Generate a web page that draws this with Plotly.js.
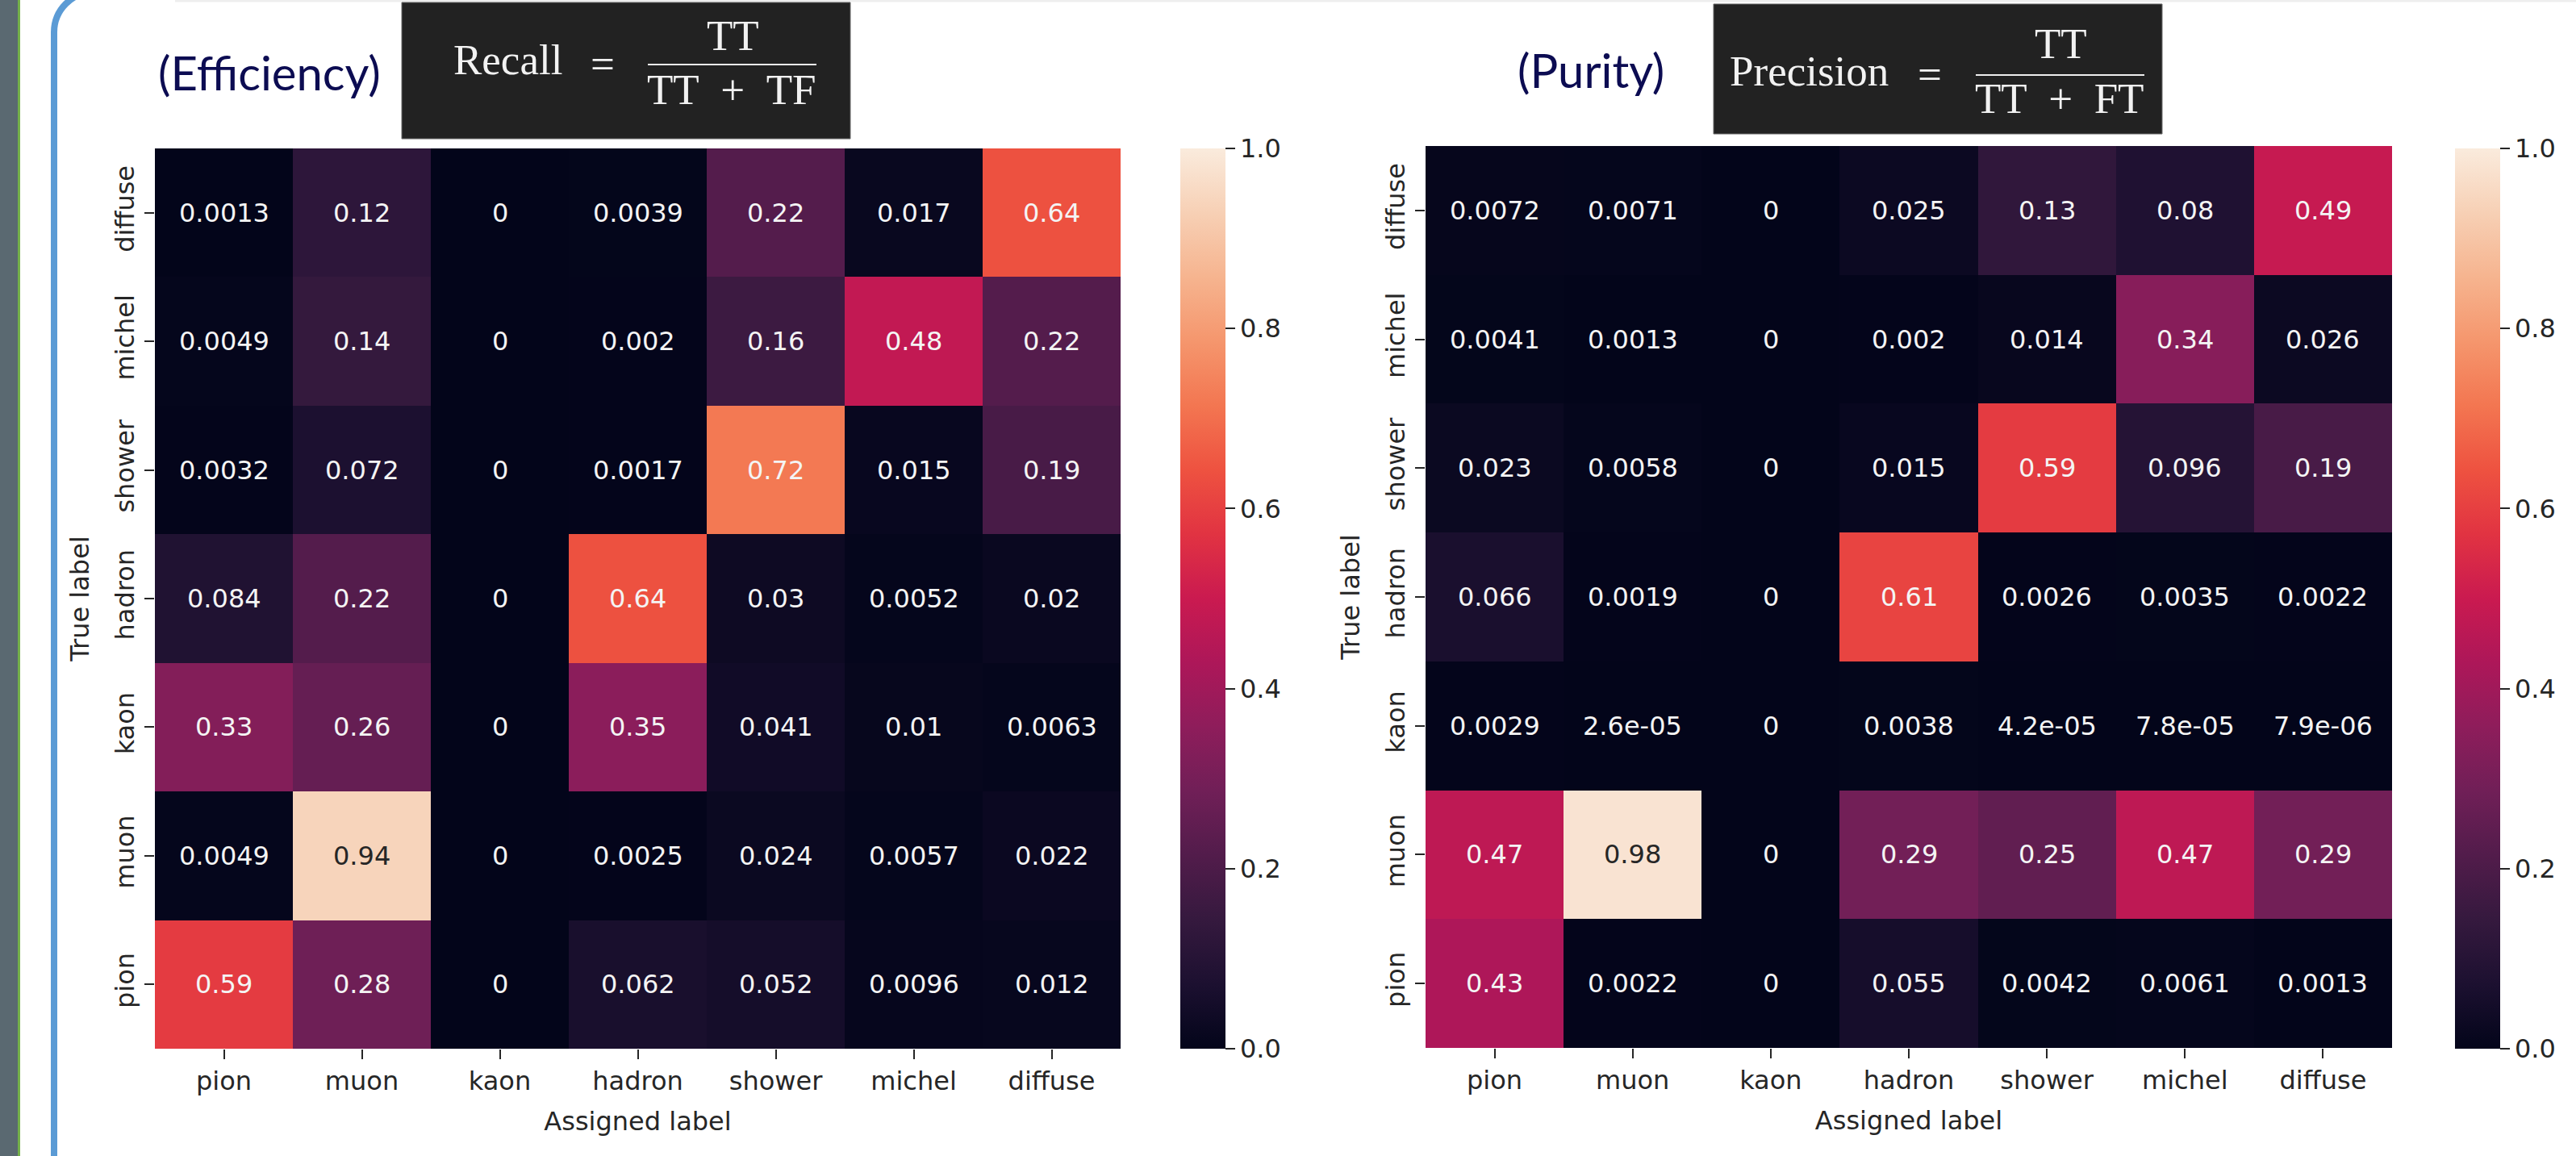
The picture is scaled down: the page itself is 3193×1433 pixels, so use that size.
<!DOCTYPE html>
<html>
<head>
<meta charset="utf-8">
<script src="https://cdn.plot.ly/plotly-3.0.1.min.js"></script>
<style>
  html, body { margin: 0; padding: 0; background: #ffffff; }
  #chart { width: 3193px; height: 1433px; }
</style>
</head>
<body>
<div id="chart"></div>
<script>
// ---------------- data ----------------
const assignedLabels = ['pion', 'muon', 'kaon', 'hadron', 'shower', 'michel', 'diffuse'];
// true labels listed bottom -> top (as drawn)
const trueLabels = ['pion', 'muon', 'kaon', 'hadron', 'shower', 'michel', 'diffuse'];

// Recall (efficiency): rows = true label (same order as trueLabels), cols = assigned label
const recallValues = [
  [0.59,   0.28, 0, 0.062,  0.052, 0.0096, 0.012],   // pion
  [0.0049, 0.94, 0, 0.0025, 0.024, 0.0057, 0.022],   // muon
  [0.33,   0.26, 0, 0.35,   0.041, 0.01,   0.0063],  // kaon
  [0.084,  0.22, 0, 0.64,   0.03,  0.0052, 0.02],    // hadron
  [0.0032, 0.072,0, 0.0017, 0.72,  0.015,  0.19],    // shower
  [0.0049, 0.14, 0, 0.002,  0.16,  0.48,   0.22],    // michel
  [0.0013, 0.12, 0, 0.0039, 0.22,  0.017,  0.64]     // diffuse
];

// Precision (purity)
const precisionValues = [
  [0.43,   0.0022,  0, 0.055,  0.0042,  0.0061,  0.0013],   // pion
  [0.47,   0.98,    0, 0.29,   0.25,    0.47,    0.29],     // muon
  [0.0029, 2.6e-05, 0, 0.0038, 4.2e-05, 7.8e-05, 7.9e-06],  // kaon
  [0.066,  0.0019,  0, 0.61,   0.0026,  0.0035,  0.0022],   // hadron
  [0.023,  0.0058,  0, 0.015,  0.59,    0.096,   0.19],     // shower
  [0.0041, 0.0013,  0, 0.002,  0.014,   0.34,    0.026],    // michel
  [0.0072, 0.0071,  0, 0.025,  0.13,    0.08,    0.49]      // diffuse
];

const colorbarTicks = [0, 0.2, 0.4, 0.6, 0.8, 1.0];

// ---------------- styling helpers ----------------
const W = 3193, H = 1433;
const px = v => v / W;            // pixel -> paper x
const py = v => 1 - v / H;        // pixel -> paper y

// seaborn "rocket" colormap (approximation)
const rocket = [
  [0.0,   '#03051a'],
  [0.0714,'#1c1030'],
  [0.1429,'#35193e'],
  [0.2143,'#521c4b'],
  [0.2857,'#701f57'],
  [0.3571,'#8e1d5b'],
  [0.4286,'#ad1759'],
  [0.5,   '#ca1a50'],
  [0.5714,'#e13342'],
  [0.6429,'#ee5240'],
  [0.7143,'#f37651'],
  [0.7857,'#f5966d'],
  [0.8571,'#f6b48f'],
  [0.9286,'#f7d0b5'],
  [1.0,   '#faebdd']
];

function fmt2g(v) {
  if (v === 0) return '0';
  const e = Math.floor(Math.log10(Math.abs(v)));
  if (e < -4) {
    let s = v.toExponential(1);           // e.g. 2.6e-5
    s = s.replace(/e([+-])(\d)$/, 'e$10$2');
    return s;
  }
  return String(parseFloat(v.toPrecision(2)));
}

const FONT = 'DejaVu Sans';
const TXT = '#262626';

function cellAnnotations(values, xr, yr) {
  const out = [];
  for (let i = 0; i < trueLabels.length; i++) {
    for (let j = 0; j < assignedLabels.length; j++) {
      const v = values[i][j];
      out.push({
        xref: xr, yref: yr, x: assignedLabels[j], y: trueLabels[i],
        text: fmt2g(v), showarrow: false,
        font: { family: FONT, size: 32, color: v >= 0.8 ? TXT : '#f4f4f4' }
      });
    }
  }
  return out;
}

function heat(values, xa, ya, cbx) {
  return {
    type: 'heatmap',
    x: assignedLabels, y: trueLabels, z: values,
    xaxis: xa, yaxis: ya,
    zmin: 0, zmax: 1,
    colorscale: rocket,
    hoverinfo: 'skip',
    colorbar: {
      x: cbx, xanchor: 'left', xpad: 0, ypad: 0,
      y: py(742), yanchor: 'middle',
      len: 1116 / H, lenmode: 'fraction',
      thickness: 56, thicknessmode: 'pixels',
      outlinewidth: 0,
      tickvals: colorbarTicks, tickformat: '.1f', tickprefix: '\u00a0',
      ticks: 'outside', ticklen: 12, tickwidth: 2, tickcolor: TXT,
      tickfont: { family: FONT, size: 32, color: TXT }
    }
  };
}

function xAxis(domain, anchor) {
  return {
    domain: domain, anchor: anchor,
    type: 'category', categoryorder: 'array', categoryarray: assignedLabels,
    ticks: 'outside', ticklen: 12, tickwidth: 2, tickcolor: TXT,
    tickfont: { family: FONT, size: 32, color: TXT },
    showgrid: false, zeroline: false, showline: false, automargin: false,
    fixedrange: true,
    title: { text: 'Assigned label', font: { family: FONT, size: 32, color: TXT }, standoff: 20 }
  };
}
function yAxis(domain, anchor) {
  return {
    domain: domain, anchor: anchor,
    type: 'category', categoryorder: 'array', categoryarray: trueLabels,
    ticks: 'outside', ticklen: 12, tickwidth: 2, tickcolor: TXT,
    tickangle: -90,
    tickfont: { family: FONT, size: 32, color: TXT },
    showgrid: false, zeroline: false, showline: false, automargin: false,
    fixedrange: true,
    title: { text: 'True label', font: { family: FONT, size: 32, color: TXT }, standoff: 16 }
  };
}

const data = [
  heat(recallValues, 'x', 'y', px(1463)),
  heat(precisionValues, 'x2', 'y2', px(3043))
];

// decorations (slide frame, formula boxes)
const c = 27.6;
const shapes = [
  { type: 'rect', xref: 'paper', yref: 'paper', x0: px(0), x1: px(22), y0: py(H), y1: py(0),
    fillcolor: '#5a6971', line: { width: 0 }, layer: 'below' },
  { type: 'rect', xref: 'paper', yref: 'paper', x0: px(22), x1: px(25), y0: py(H), y1: py(0),
    fillcolor: '#74b04a', line: { width: 0 }, layer: 'below' },
  { type: 'path', xref: 'paper', yref: 'paper',
    path: `M ${px(67)} ${py(H + 10)} L ${px(67)} ${py(40)} C ${px(67)} ${py(40 - c)} ${px(117 - c)} ${py(-10)} ${px(117)} ${py(-10)}`,
    line: { color: '#5b9bd5', width: 8 }, layer: 'below' },
  { type: 'line', xref: 'paper', yref: 'paper', x0: px(217), x1: px(W), y0: py(1), y1: py(1),
    line: { color: '#eeeeee', width: 3 }, layer: 'below' },
  // formula boxes
  { type: 'rect', xref: 'paper', yref: 'paper', x0: px(498), x1: px(1054), y0: py(172), y1: py(3),
    fillcolor: '#222222', line: { color: '#666666', width: 1 } },
  { type: 'rect', xref: 'paper', yref: 'paper', x0: px(2124), x1: px(2680), y0: py(166), y1: py(5),
    fillcolor: '#222222', line: { color: '#666666', width: 1 } },
  // fraction bars
  { type: 'line', xref: 'paper', yref: 'paper', x0: px(803), x1: px(1012), y0: py(80), y1: py(80),
    line: { color: '#eeeeee', width: 2 } },
  { type: 'line', xref: 'paper', yref: 'paper', x0: px(2449), x1: px(2658), y0: py(93), y1: py(93),
    line: { color: '#eeeeee', width: 2 } }
];

const SERIF = 'Liberation Serif';
const FW = '#f2f2f2';
function paperText(text, x, y, font) {
  return { xref: 'paper', yref: 'paper', x: px(x), y: py(y), xanchor: 'center', yanchor: 'middle',
           text: text, showarrow: false, font: font };
}
const titleFont = { family: 'Lato', size: 58, color: '#0c0c52' };
const mathFont = { family: SERIF, size: 53, color: FW };

const annotations = [
  paperText('(Efficiency)', 334, 90, titleFont),
  paperText('(Purity)', 1972, 86, titleFont),
  paperText('Recall', 629, 74, mathFont),
  paperText('=', 747, 79, mathFont),
  paperText('TT', 908, 44, mathFont),
  paperText('TT\u00a0\u00a0+\u00a0\u00a0TF', 907, 111, mathFont),
  paperText('Precision', 2242, 88, mathFont),
  paperText('=', 2392, 92, mathFont),
  paperText('TT', 2554, 54, mathFont),
  paperText('TT\u00a0\u00a0+\u00a0\u00a0FT', 2553, 122, mathFont)
].concat(cellAnnotations(recallValues, 'x', 'y'))
 .concat(cellAnnotations(precisionValues, 'x2', 'y2'));

const layout = {
  width: W, height: H,
  margin: { l: 0, r: 0, t: 0, b: 0, pad: 0 },
  paper_bgcolor: '#ffffff', plot_bgcolor: '#ffffff',
  font: { family: FONT, color: TXT },
  showlegend: false,
  xaxis: xAxis([px(192), px(1389)], 'y'),
  yaxis: yAxis([py(1300), py(184)], 'x'),
  xaxis2: xAxis([px(1767), px(2965)], 'y2'),
  yaxis2: yAxis([py(1299), py(181)], 'x2'),
  shapes: shapes,
  annotations: annotations
};

Plotly.newPlot('chart', data, layout, { displayModeBar: false, staticPlot: true });
</script>
</body>
</html>
